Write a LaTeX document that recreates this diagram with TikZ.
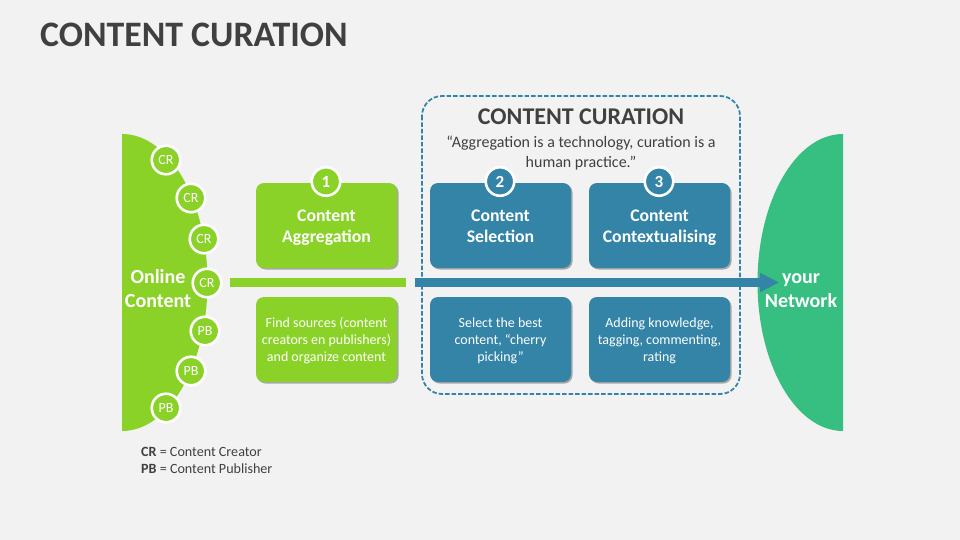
\documentclass[tikz,border=0pt]{standalone}
\usepackage{fontspec}
\setmainfont{Carlito}
\usetikzlibrary{shadows,arrows.meta}
\definecolor{bg}{HTML}{F2F2F2}
\definecolor{lime}{HTML}{8AD228}
\definecolor{teal}{HTML}{3384A6}
\definecolor{sea}{HTML}{36BF80}
\definecolor{ink}{HTML}{404040}
\newcommand{\cardlift}{\rule{0pt}{2pt}\\[-4pt]}
\tikzset{
  card/.style={rounded corners=8pt,minimum width=141pt,inner sep=0pt,align=center,text=white,
    drop shadow={shadow xshift=1.5pt,shadow yshift=-1.5pt,fill=black,opacity=.3}},
  headcard/.style={card,minimum height=85pt,font=\fontsize{17.7}{21.5}\selectfont\bfseries},
  subcard/.style={card,minimum height=85pt,font=\fontsize{13.95}{17}\selectfont},
  badge/.style={circle,draw=white,line width=2.6pt,minimum size=28.5pt,inner sep=0pt,text=white,font=\fontsize{17}{17}\selectfont\bfseries},
  src/.style={circle,draw=white,line width=2.6pt,fill=lime,minimum size=28.5pt,inner sep=0pt,text=white,font=\fontsize{14}{14}\selectfont},
  bigwhite/.style={text=white,align=center,font=\fontsize{20}{24}\selectfont\bfseries},
}
\begin{document}
\begin{tikzpicture}[x=1pt,y=-1pt]
\useasboundingbox[fill=bg] (0,0) rectangle (960,540);
% half ellipses
\fill[lime] (122,134) arc[start angle=-90,end angle=90,x radius=85.5,y radius=148.5] -- cycle;
\fill[sea] (843,134) arc[start angle=-90,end angle=-270,x radius=85.5,y radius=148.5] -- cycle;
% title
\node[anchor=west,inner sep=0pt,text=ink,font=\fontsize{35.8}{36}\selectfont\bfseries] (title) at (40,34.5) {CONTENT CURATION};
% cards
\node[headcard,fill=lime] (h1) at (326.5,225.5) {\cardlift\strut Content\\\strut Aggregation};
\node[headcard,fill=teal] (h2) at (500.5,225.5) {\cardlift\strut Content\\\strut Selection};
\node[headcard,fill=teal] (h3) at (659.5,225.5) {\cardlift\strut Content\\\strut Contextualising};
\node[subcard,fill=lime] (s1) at (326.5,339.5) {\cardlift\strut Find sources (content\\\strut creators en publishers)\\\strut and organize content};
\node[subcard,fill=teal] (s2) at (500.5,339.5) {\cardlift\strut Select the best\\\strut content, “cherry\\\strut picking”};
\node[subcard,fill=teal] (s3) at (659.5,339.5) {\cardlift\strut Adding knowledge,\\\strut tagging, commenting,\\\strut rating};
\node[badge,fill=lime] (b1) at (326,181.5) {1};
\node[badge,fill=teal] (b2) at (500,181.5) {2};
\node[badge,fill=teal] (b3) at (659,181.5) {3};
% bars
\coordinate (ga) at (230,282.5);
\coordinate (gb) at (406,282.5);
\coordinate (ta) at (415,282.5);
\coordinate (tb) at (779,282.5);
\draw[lime,line width=9pt] (ga) -- (gb);
\draw[teal,line width=9pt,-{Triangle[width=18pt,length=19pt]}] (ta) -- (tb);
% dashed frame
\draw[teal,line width=1.75pt,dash pattern=on 4.5pt off 2pt,rounded corners=20pt] (422,96) rectangle (740,394);
% frame text
\node[text=ink,font=\fontsize{24}{24}\selectfont\bfseries] (ft) at (581,116.5) {CONTENT CURATION};
\node[text=ink,align=center,font=\fontsize{16}{20}\selectfont] (fq) at (581,153.5) {\strut “Aggregation is a technology, curation is a\\\strut human practice.”};
% sources
\node[src] (c1) at (166,160) {CR};
\node[src] (c2) at (191,198) {CR};
\node[src] (c3) at (204,239) {CR};
\node[src] (c4) at (207,283) {CR};
\node[src] (p1) at (205,331) {PB};
\node[src] (p2) at (191,371) {PB};
\node[src] (p3) at (166,408) {PB};
\node[bigwhite] (oc) at (158,290.5) {\strut Online\\\strut Content};
\node[bigwhite] (yn) at (801,290.5) {\strut your\\\strut Network};
% legend
\node[anchor=west,inner sep=0pt,text=ink,align=left,font=\fontsize{14.1}{17}\selectfont] (lg) at (141,462) {\strut\textbf{CR} = Content Creator\\\strut\textbf{PB} = Content Publisher};
\end{tikzpicture}
\end{document}
